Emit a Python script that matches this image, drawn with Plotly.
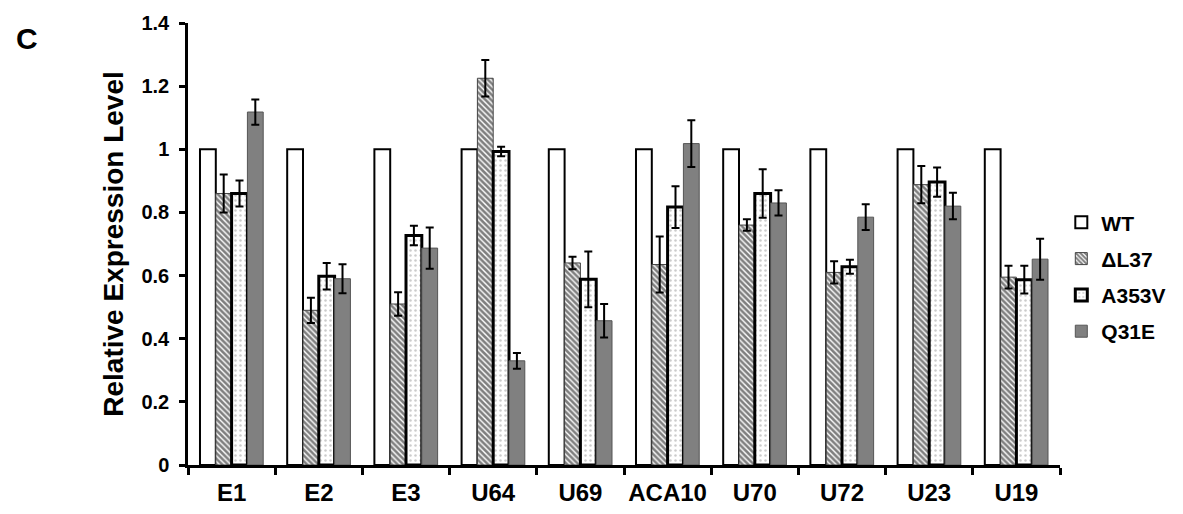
import plotly.graph_objects as go

categories = ["E1", "E2", "E3", "U64", "U69", "ACA10", "U70", "U72", "U23", "U19"]

wt = [1, 1, 1, 1, 1, 1, 1, 1, 1, 1]

dl37 = [0.86, 0.49, 0.51, 1.225, 0.64, 0.635, 0.76, 0.61, 0.888, 0.595]
dl37_err = [0.06, 0.04, 0.037, 0.058, 0.02, 0.089, 0.018, 0.035, 0.059, 0.036]

a353v = [0.86, 0.598, 0.727, 0.993, 0.588, 0.817, 0.86, 0.628, 0.896, 0.587]
a353v_err = [0.041, 0.042, 0.031, 0.015, 0.088, 0.066, 0.077, 0.022, 0.046, 0.044]

q31e = [1.118, 0.59, 0.687, 0.33, 0.457, 1.018, 0.83, 0.785, 0.82, 0.652]
q31e_err = [0.04, 0.046, 0.065, 0.025, 0.053, 0.074, 0.04, 0.041, 0.042, 0.065]

FONT = "Liberation Sans, Arial, sans-serif"

err_style = dict(type="data", visible=True, color="black", thickness=2, width=4)

fig = go.Figure()

fig.add_trace(go.Bar(
    name="WT", x=categories, y=wt, legendgroup="a",
    marker=dict(color="white", line=dict(color="black", width=2)),
))
fig.add_trace(go.Bar(
    name="ΔL37", x=categories, y=dl37, legendgroup="b",
    marker=dict(color="white", line=dict(color="#444444", width=1),
                pattern=dict(shape="\\", fgcolor="#000000", bgcolor="white",
                             size=4, solidity=0.65)),
    error_y=dict(array=dl37_err, **err_style),
))
fig.add_trace(go.Bar(
    name="A353V", x=categories, y=a353v, legendgroup="c",
    marker=dict(color="white", line=dict(color="black", width=3),
                pattern=dict(shape=".", fgcolor="#999999", bgcolor="white",
                             size=5, solidity=0.2)),
    error_y=dict(array=a353v_err, **err_style),
))
fig.add_trace(go.Bar(
    name="Q31E", x=categories, y=q31e, legendgroup="d",
    marker=dict(color="#808080", line=dict(color="#555555", width=1)),
    error_y=dict(array=q31e_err, **err_style),
))

fig.update_layout(
    width=1183, height=514,
    margin=dict(l=188, r=97, t=20, b=49),
    paper_bgcolor="white", plot_bgcolor="white",
    barmode="group", bargap=0.275, bargroupgap=0,
    font=dict(family=FONT, color="black"),
    showlegend=True,
    legend=dict(
        x=1.0015, xanchor="left", y=0.425, yanchor="middle",
        font=dict(family=FONT, size=21, color="black", weight="bold"),
        traceorder="grouped", tracegroupgap=6,
        bgcolor="rgba(0,0,0,0)",
    ),
    xaxis=dict(
        type="category", automargin=False, tickangle=0,
        showline=True, linecolor="black", linewidth=2.5,
        ticks="outside", tickson="boundaries", ticklen=7, tickwidth=2.5, tickcolor="black",
        ticklabelstandoff=4,
        tickfont=dict(family=FONT, size=24, color="black", weight="bold"),
        showgrid=False, zeroline=False,
    ),
    yaxis=dict(
        range=[0, 1.4],
        tickvals=[0, 0.2, 0.4, 0.6, 0.8, 1.0, 1.2, 1.4],
        ticktext=["0", "0.2", "0.4", "0.6", "0.8", "1", "1.2", "1.4"],
        showline=True, linecolor="black", linewidth=2.5,
        ticks="outside", ticklen=6, tickwidth=2.5, tickcolor="black",
        ticklabelstandoff=6,
        tickfont=dict(family=FONT, size=20, color="black", weight="bold"),
        title=dict(text="Relative Expression Level",
                   font=dict(family=FONT, size=28, color="black", weight="bold"),
                   standoff=10),
        showgrid=False, zeroline=False,
    ),
    annotations=[dict(
        text="C", xref="paper", yref="paper",
        x=-0.2, y=0.966, xanchor="left", yanchor="middle",
        showarrow=False,
        font=dict(family=FONT, size=30, color="black", weight="bold"),
    )],
)

fig.write_html("out.html", config={"displayModeBar": False},
               post_script="document.body.style.margin='0';document.body.style.overflow='hidden';")
